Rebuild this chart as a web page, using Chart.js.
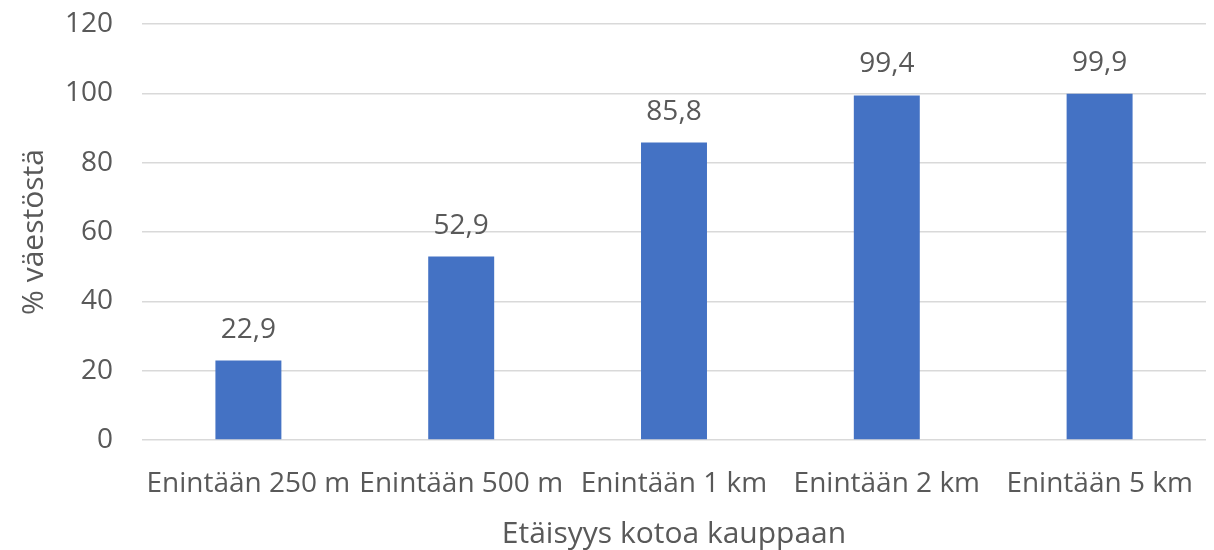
<!DOCTYPE html>
<html>
<head>
<meta charset="utf-8">
<script src="https://cdn.jsdelivr.net/npm/chart.js@4"></script>
<style>
html,body{margin:0;padding:0;background:#fff;}
#wrap{width:1214px;height:550px;}
</style>
</head>
<body>
<div id="wrap"><canvas id="c" width="1214" height="550"></canvas></div>
<script>
const categories = ["Enintään 250 m", "Enintään 500 m", "Enintään 1 km", "Enintään 2 km", "Enintään 5 km"];
const values = [22.9, 52.9, 85.8, 99.4, 99.9];
const yTicks = [0, 20, 40, 60, 80, 100, 120];
const yTitle = "% väestöstä";
const xTitle = "Etäisyys kotoa kauppaan";

const FONT = "'Open Sans', 'Noto Sans', sans-serif";
const TXT = "#595959";

const dataLabels = {
  id: 'dataLabels',
  afterDatasetsDraw(chart) {
    const ctx = chart.ctx;
    const meta = chart.getDatasetMeta(0);
    ctx.save();
    ctx.font = "28px " + FONT;
    ctx.fillStyle = TXT;
    ctx.textAlign = 'center';
    ctx.textBaseline = 'middle';
    meta.data.forEach((bar, i) => {
      const v = chart.data.datasets[0].data[i];
      ctx.fillText(v.toFixed(1).replace('.', ','), bar.x, bar.y - 31);
    });
    ctx.restore();
  }
};

new Chart(document.getElementById('c'), {
  type: 'bar',
  data: {
    labels: categories,
    datasets: [{
      data: values,
      backgroundColor: '#4472C4',
      borderWidth: 0,
      barPercentage: 0.62,
      categoryPercentage: 0.5
    }]
  },
  options: {
    responsive: false,
    animation: false,
    devicePixelRatio: 1,
    layout: { padding: { top: 24, right: 8, left: 16, bottom: 0 } },
    plugins: { legend: { display: false }, tooltip: { enabled: false } },
    scales: {
      x: {
        grid: { display: false, drawTicks: false },
        border: { display: false },
        ticks: {
          color: TXT, font: { family: FONT, size: 28 },
          padding: 27, autoSkip: false, maxRotation: 0, minRotation: 0
        },
        title: {
          display: true, text: xTitle, color: TXT,
          font: { family: FONT, size: 30 },
          padding: { top: 12, bottom: -2 }
        },
        afterFit(s) { s.height = 110; s.paddingLeft = 0; s.paddingRight = 0; }
      },
      y: {
        min: 0, max: 120,
        afterBuildTicks(scale) { scale.ticks = yTicks.map(v => ({ value: v })); },
        grid: { color: '#d9d9d9', lineWidth: 1.5, drawTicks: false },
        border: { display: false },
        ticks: { color: TXT, font: { family: FONT, size: 28 }, padding: 29 },
        title: {
          display: true, text: yTitle, color: TXT,
          font: { family: FONT, size: 30 },
          padding: { top: 0, bottom: 14 }
        },
        afterFit(s) { s.width = 126; s.paddingTop = 0; s.paddingBottom = 0; }
      }
    }
  },
  plugins: [dataLabels]
});
</script>
</body>
</html>
